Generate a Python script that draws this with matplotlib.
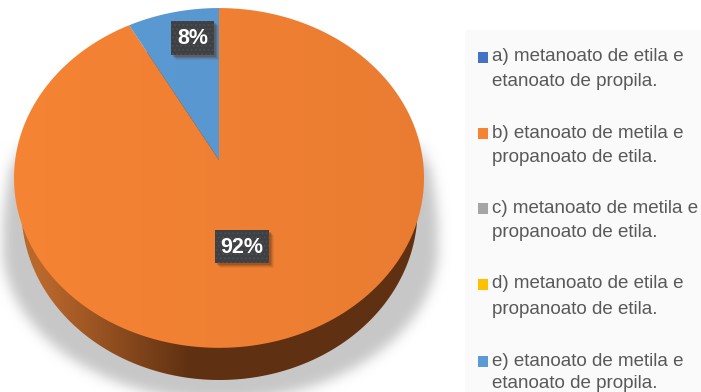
import matplotlib
matplotlib.use("Agg")
import matplotlib.pyplot as plt
import numpy as np
from matplotlib.patches import Rectangle

plt.rcParams["font.family"] = ["Liberation Sans", "DejaVu Sans"]
plt.rcParams["hatch.linewidth"] = 0.8

categories = [
    "a) metanoato de etila e\netanoato de propila.",
    "b) etanoato de metila e\npropanoato de etila.",
    "c) metanoato de metila e\npropanoato de etila.",
    "d) metanoato de etila e\npropanoato de etila.",
    "e) etanoato de metila e\netanoato de propila.",
]
values = [0, 92, 0, 0, 8]
colors = ["#4472c4", "#f58334", "#a5a5a5", "#ffc000", "#5b9bd5"]

W, H = 701, 392
CX, CY = 219, 160  # centre of the pie as seen in perspective
K = 0.1057
A = 168.0
B = 203.85


# Tilted disc: angle in degrees clockwise from 12 o'clock to pixel position
def disc_point(deg, scale=1.0):
    t = np.radians(deg)
    d = 1 + K * np.cos(t)
    return CX + scale * B * np.sin(t) / d, CY - scale * A * np.cos(t) / d


def gaussian_blur(img, sigma):
    r = int(sigma * 3)
    x = np.arange(-r, r + 1)
    g = np.exp(-x**2 / (2 * sigma**2))
    g /= g.sum()
    img = np.apply_along_axis(lambda m: np.convolve(m, g, mode="same"), 0, img)
    return np.apply_along_axis(lambda m: np.convolve(m, g, mode="same"), 1, img)


fig = plt.figure(figsize=(W / 100, H / 100), dpi=100, facecolor="white")
ax = fig.add_axes([0, 0, 1, 1])
ax.set_xlim(0, W)
ax.set_ylim(H, 0)
ax.axis("off")

# legend panel background
ax.add_patch(Rectangle((465, 30), W - 465, H - 30, fc="#fafafa", ec="none", zorder=0))

# soft shadow below the disc, fading out towards the top
pad = 40
yy, xx = np.mgrid[-pad:H + pad, -pad:W + pad]
ry = np.where(yy < 245, 280.0, 155.0)
mask = (((xx - 220) / 218.0) ** 2 + ((yy - 245) / ry) ** 2 <= 1).astype(float)
shadow = gaussian_blur(mask, 6)[pad:-pad, pad:-pad]
fade = np.clip((np.arange(H) - 135) / 35.0, 0, 1)[:, None]
rgba = np.zeros((H, W, 4))
rgba[..., :3] = 0.72
rgba[..., 3] = shadow * fade * 0.78
ax.imshow(rgba, extent=(0, W, H, 0), zorder=1, aspect="auto", interpolation="bilinear")

# side wall of the disc, brown shading running left to right
t = np.linspace(0, 2 * np.pi, 400)
side_x = 219.5 + 198 * np.cos(t)
side_y = 210 + 170 * np.sin(t)
side_clip = ax.fill(side_x, side_y, color="none", zorder=2)[0]
stops = np.interp(np.arange(W), [0, 45, 110, 190, W], [0, 0.02, 0.45, 1, 1])
light = np.array([0xbb, 0x68, 0x2c]) / 255
dark = np.array([0x5f, 0x30, 0x11]) / 255
grad = light[None, None, :] + (dark - light)[None, None, :] * stops[None, :, None]
side = ax.imshow(grad, extent=(0, W, H, 0), zorder=2, aspect="auto")
side.set_clip_path(side_clip)

# top face, each slice gets slightly darker to the right
tint = np.zeros((1, W, 4))
tint[..., 3] = np.interp(np.arange(W), [14, 424], [0, 0.05])
start = 0.0
total = sum(values)
for value, color in zip(values, colors):
    if value == 0:
        continue
    sweep = 360.0 * value / total
    px, py = disc_point(np.linspace(start, start + sweep, 300))
    face = ax.fill(np.r_[CX, px], np.r_[CY, py], color=color, lw=0, zorder=3)[0]
    shade = ax.imshow(tint, extent=(0, W, H, 0), zorder=3, aspect="auto")
    shade.set_clip_path(face)
    start += sweep


# dark data label with a small drop shadow
def data_label(value, x0, y0, x1, y1):
    for off, alpha in [(5, 0.08), (4, 0.12), (3, 0.2), (2, 0.25)]:
        ax.add_patch(Rectangle((x0 + off, y0 + off), x1 - x0, y1 - y0,
                               fc="#5a3010", alpha=alpha, ec="none", zorder=4))
    ax.add_patch(Rectangle((x0, y0), x1 - x0, y1 - y0, fc="#3f4043",
                           ec="#4e4f52", hatch="....", lw=0, zorder=5))
    ax.text((x0 + x1) / 2, (y0 + y1) / 2 + 0.5, f"{value}%", color="white", fontsize=15.5,
            fontweight="bold", ha="center", va="center", zorder=6)


data_label(values[1], 215, 230, 269, 263)
data_label(values[4], 171, 21, 214, 55)

# legend
first_line = [56, 133, 208, 284, 361]
second_line = [81, 157, 232, 309, 384]
swatch_top = [52, 128, 203, 279, 356]
for i, (label, color) in enumerate(zip(categories, colors)):
    ax.add_patch(Rectangle((477.5, swatch_top[i]), 10.5, 10.5, fc=color, ec="none", zorder=3))
    line1, line2 = label.split("\n")
    ax.text(492, first_line[i], line1, color="#595959", fontsize=13.5, va="center", ha="left", zorder=3)
    ax.text(492, second_line[i], line2, color="#595959", fontsize=13.5, va="center", ha="left", zorder=3)

ax.set_xlim(0, W)
ax.set_ylim(H, 0)
fig.savefig("out.png", dpi=100)
